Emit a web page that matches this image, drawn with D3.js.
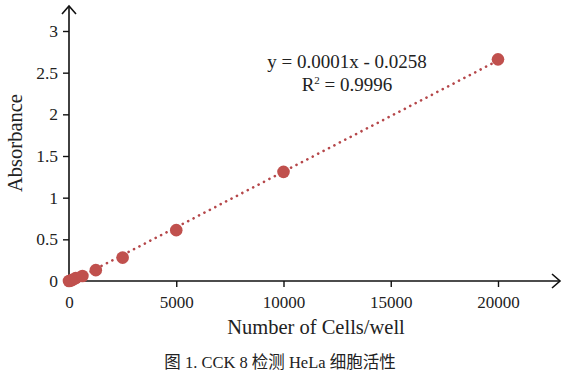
<!DOCTYPE html>
<html><head><meta charset="utf-8">
<script src="https://cdn.jsdelivr.net/npm/d3@7/dist/d3.min.js"></script>
<style>body{margin:0;background:#fff}svg{display:block}text{font-family:"Liberation Serif","Times New Roman","Noto Sans CJK SC",serif;fill:#222}</style>
</head><body><svg id="c" width="565" height="383"></svg>
<script>
const cells = [0, 78, 156, 312, 625, 1250, 2500, 5000, 10000, 20000];
const absorbance = [0.0, 0.005, 0.015, 0.035, 0.06, 0.13, 0.28, 0.61, 1.31, 2.66];
const xTicks = [0, 5000, 10000, 15000, 20000];
const yTicks = [0, 0.5, 1, 1.5, 2, 2.5, 3];
const eqLines = ["y = 0.0001x - 0.0258"];
const r2Label = "0.9996";
const xTitle = "Number of Cells/well";
const yTitle = "Absorbance";
const caption = "图 1. CCK 8 检测 HeLa 细胞活性";

const svg = d3.select("#c");
const x = d3.scaleLinear().domain([0, 20000]).range([69, 498]);
const y = d3.scaleLinear().domain([0, 3]).range([281, 31]);
const red = "#c0504d";

// trendline (least squares fit)
const n = cells.length;
const mx = d3.mean(cells), my = d3.mean(absorbance);
let sxy = 0, sxx = 0;
for (let i = 0; i < n; i++) { sxy += (cells[i]-mx)*(absorbance[i]-my); sxx += (cells[i]-mx)**2; }
const slope = sxy/sxx, icpt = my - slope*mx;
svg.append("line")
  .attr("x1", x(0)).attr("y1", y(slope*0+icpt))
  .attr("x2", x(20000)).attr("y2", y(slope*20000+icpt))
  .attr("stroke", "#b5474a").attr("stroke-width", 2.6)
  .attr("stroke-linecap", "round").attr("stroke-dasharray", "0.1 6");

// axes
const ax = svg.append("g").attr("stroke", "#111").attr("stroke-width", 1.6).attr("fill", "none");
ax.append("line").attr("x1", x(0)).attr("y1", y(0)).attr("x2", 560).attr("y2", y(0));
ax.append("line").attr("x1", x(0)).attr("y1", y(0)).attr("x2", x(0)).attr("y2", 6);
ax.append("path").attr("d", `M${552},${y(0)-7}L${560},${y(0)}L${552},${y(0)+7}`);
ax.append("path").attr("d", `M${x(0)-7},${14}L${x(0)},${6}L${x(0)+7},${14}`);

const gx = svg.append("g").attr("transform", `translate(0,${y(0)})`)
  .call(d3.axisBottom(x).tickValues(xTicks).tickSize(6).tickSizeOuter(0).tickPadding(9).tickFormat(d3.format("d")));
gx.select(".domain").remove();
gx.selectAll("line").attr("stroke", "#111").attr("stroke-width", 1.4);
gx.selectAll("text").attr("font-size", 17).style("font-family", '"Liberation Serif",serif').attr("fill", "#222");

const gy = svg.append("g").attr("transform", `translate(${x(0)},0)`)
  .call(d3.axisLeft(y).tickValues(yTicks).tickSize(6).tickSizeOuter(0).tickPadding(5).tickFormat(d => d));
gy.select(".domain").remove();
gy.selectAll("line").attr("stroke", "#111").attr("stroke-width", 1.4);
gy.selectAll("text").attr("font-size", 17.5).style("font-family", '"Liberation Serif",serif').attr("fill", "#222");

// points
svg.append("g").selectAll("circle").data(cells).join("circle")
  .attr("cx", (d) => x(d)).attr("cy", (d, i) => y(absorbance[i])).attr("r", 6.3)
  .attr("fill", red);

// equation
svg.append("text").attr("x", 347).attr("y", 68).attr("text-anchor", "middle").attr("font-size", 19).text(eqLines[0]);
const r2 = svg.append("text").attr("x", 347).attr("y", 91).attr("text-anchor", "middle").attr("font-size", 19);
r2.append("tspan").text("R");
r2.append("tspan").attr("font-size", 11).attr("dy", -7).text("2");
r2.append("tspan").attr("dy", 7).text(" = " + r2Label);

// titles
svg.append("text").attr("x", 316).attr("y", 334).attr("text-anchor", "middle").attr("font-size", 20.5).text(xTitle);
svg.append("text").attr("transform", "translate(22,143) rotate(-90)").attr("text-anchor", "middle").attr("font-size", 20.5).text(yTitle);
svg.append("text").attr("x", 280).attr("y", 368).attr("text-anchor", "middle").attr("font-size", 16.5).text(caption);
</script></body></html>
